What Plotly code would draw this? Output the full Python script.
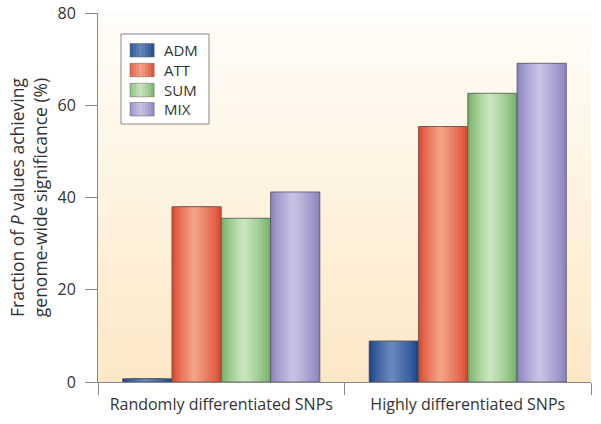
import plotly.graph_objects as go

categories = ["Randomly differentiated SNPs", "Highly differentiated SNPs"]
series_names = ["ADM", "ATT", "SUM", "MIX"]
adm = [0.7, 8.9]
att = [38.0, 55.4]
sum_ = [35.5, 62.6]
mix = [41.2, 69.1]
series_values = [adm, att, sum_, mix]
y_ticks = [0, 20, 40, 60, 80]

edge_colors = [(28, 70, 140), (222, 72, 50), (118, 178, 105), (140, 132, 190)]
center_colors = [(104, 134, 188), (241, 162, 132), (202, 229, 190), (198, 194, 228)]

FONT = "Open Sans"
TXT = "#333"
AX = "#888"

# plot area in page pixels
PX0, PX1, PY0, PY1 = 98, 591, 13, 382
W, H = 601, 424


def px(x):
    return (x - PX0) / (PX1 - PX0)


def py(y):
    return (PY1 - y) / (PY1 - PY0)


def mix_col(c1, c2, f):
    return "rgb(%d,%d,%d)" % tuple(round(c1[j] + (c2[j] - c1[j]) * f) for j in range(3))


fig = go.Figure()

N = 10
p = 0.45
w = 0.2
for i, (name, vals) in enumerate(zip(series_names, series_values)):
    base = -0.4 + w * i
    ec, cc = edge_colors[i], center_colors[i]
    for k in range(N):
        a = p * k / N
        b = 1 - (1 - p) * k / N
        f = (k / (N - 1)) ** 0.8
        fig.add_trace(go.Bar(
            x=categories, y=vals, name=name,
            offset=[base + w * a] * len(vals),
            width=[w * (b - a)] * len(vals),
            marker=dict(color=mix_col(ec, cc, f), line=dict(width=0)),
            showlegend=False, hoverinfo="skip",
        ))
    fig.add_trace(go.Bar(
        x=categories, y=vals, name=name,
        offset=[base] * len(vals), width=[w] * len(vals),
        marker=dict(color="rgba(0,0,0,0)", line=dict(width=1, color="rgba(80,80,80,0.75)")),
        showlegend=False,
    ))

shapes = []
# vertical gradient background for plot area
top = (255, 253, 249)
bot = (253, 232, 198)
S = 60
for s in range(S):
    f = s / (S - 1)
    shapes.append(dict(type="rect", xref="x domain", yref="y domain",
                       x0=0, x1=1, y0=1 - (s + 1) / S, y1=1 - s / S + 0.002,
                       fillcolor=mix_col(top, bot, f), line=dict(width=0),
                       layer="below"))

# custom legend (box, gradient swatches, labels)
annotations = []
shapes.append(dict(type="rect", xref="paper", yref="paper",
                   x0=px(121), x1=px(209), y0=py(124), y1=py(34),
                   fillcolor="white", line=dict(width=1, color=AX), layer="above"))
sw_top = [43.5, 63.3, 83.3, 102.5]
SW_H = 13.5
for i, name in enumerate(series_names):
    ec, cc = edge_colors[i], center_colors[i]
    y0, y1 = sw_top[i] + SW_H, sw_top[i]
    nst = 8
    xa, xb = 130, 154
    for k in range(nst):
        t = (k + 0.5) / nst
        f = 1 - abs(t - 0.45) / 0.55
        shapes.append(dict(type="rect", xref="paper", yref="paper",
                           x0=px(xa + (xb - xa) * k / nst), x1=px(xa + (xb - xa) * (k + 1) / nst + 0.3),
                           y0=py(y0), y1=py(y1),
                           fillcolor=mix_col(ec, cc, max(f, 0) ** 0.8), line=dict(width=0),
                           layer="above"))
    shapes.append(dict(type="rect", xref="paper", yref="paper",
                       x0=px(xa), x1=px(xb), y0=py(y0), y1=py(y1),
                       line=dict(width=0.8, color="rgba(90,90,90,0.6)"), layer="above"))
    annotations.append(dict(text=name, xref="paper", yref="paper",
                            x=px(162), y=py(sw_top[i] + SW_H / 2), xanchor="left",
                            yanchor="middle", showarrow=False,
                            font=dict(family=FONT, size=15, color=TXT)))

fig.update_layout(
    width=W, height=H,
    margin=dict(l=PX0, r=W - PX1, t=PY0, b=H - PY1),
    paper_bgcolor="white", plot_bgcolor="rgba(0,0,0,0)",
    barmode="overlay",
    shapes=shapes, annotations=annotations,
    font=dict(family=FONT, size=16, color=TXT),
    showlegend=False,
)
fig.update_xaxes(
    automargin=False,
    showline=True, linecolor=AX, linewidth=1,
    ticks="outside", tickson="boundaries", ticklen=12, tickcolor=AX,
    showgrid=False, tickfont=dict(size=16, color=TXT), ticklabelstandoff=8,
)
fig.update_yaxes(
    automargin=False,
    range=[0, 80], tickvals=y_ticks, showline=True, linecolor=AX, linewidth=1,
    ticks="outside", ticklen=12, tickcolor=AX, showgrid=False, zeroline=False,
    tickfont=dict(size=16, color=TXT), ticklabelstandoff=6, ticklabeloverflow="allow",
    title=dict(text="Fraction of <i>P</i> values achieving<br>genome-wide significance (%)",
               font=dict(size=17.5, color=TXT), standoff=5),
)
fig.write_html("out.html", config={"displayModeBar": False},
               post_script="document.body.style.margin='0px';")
